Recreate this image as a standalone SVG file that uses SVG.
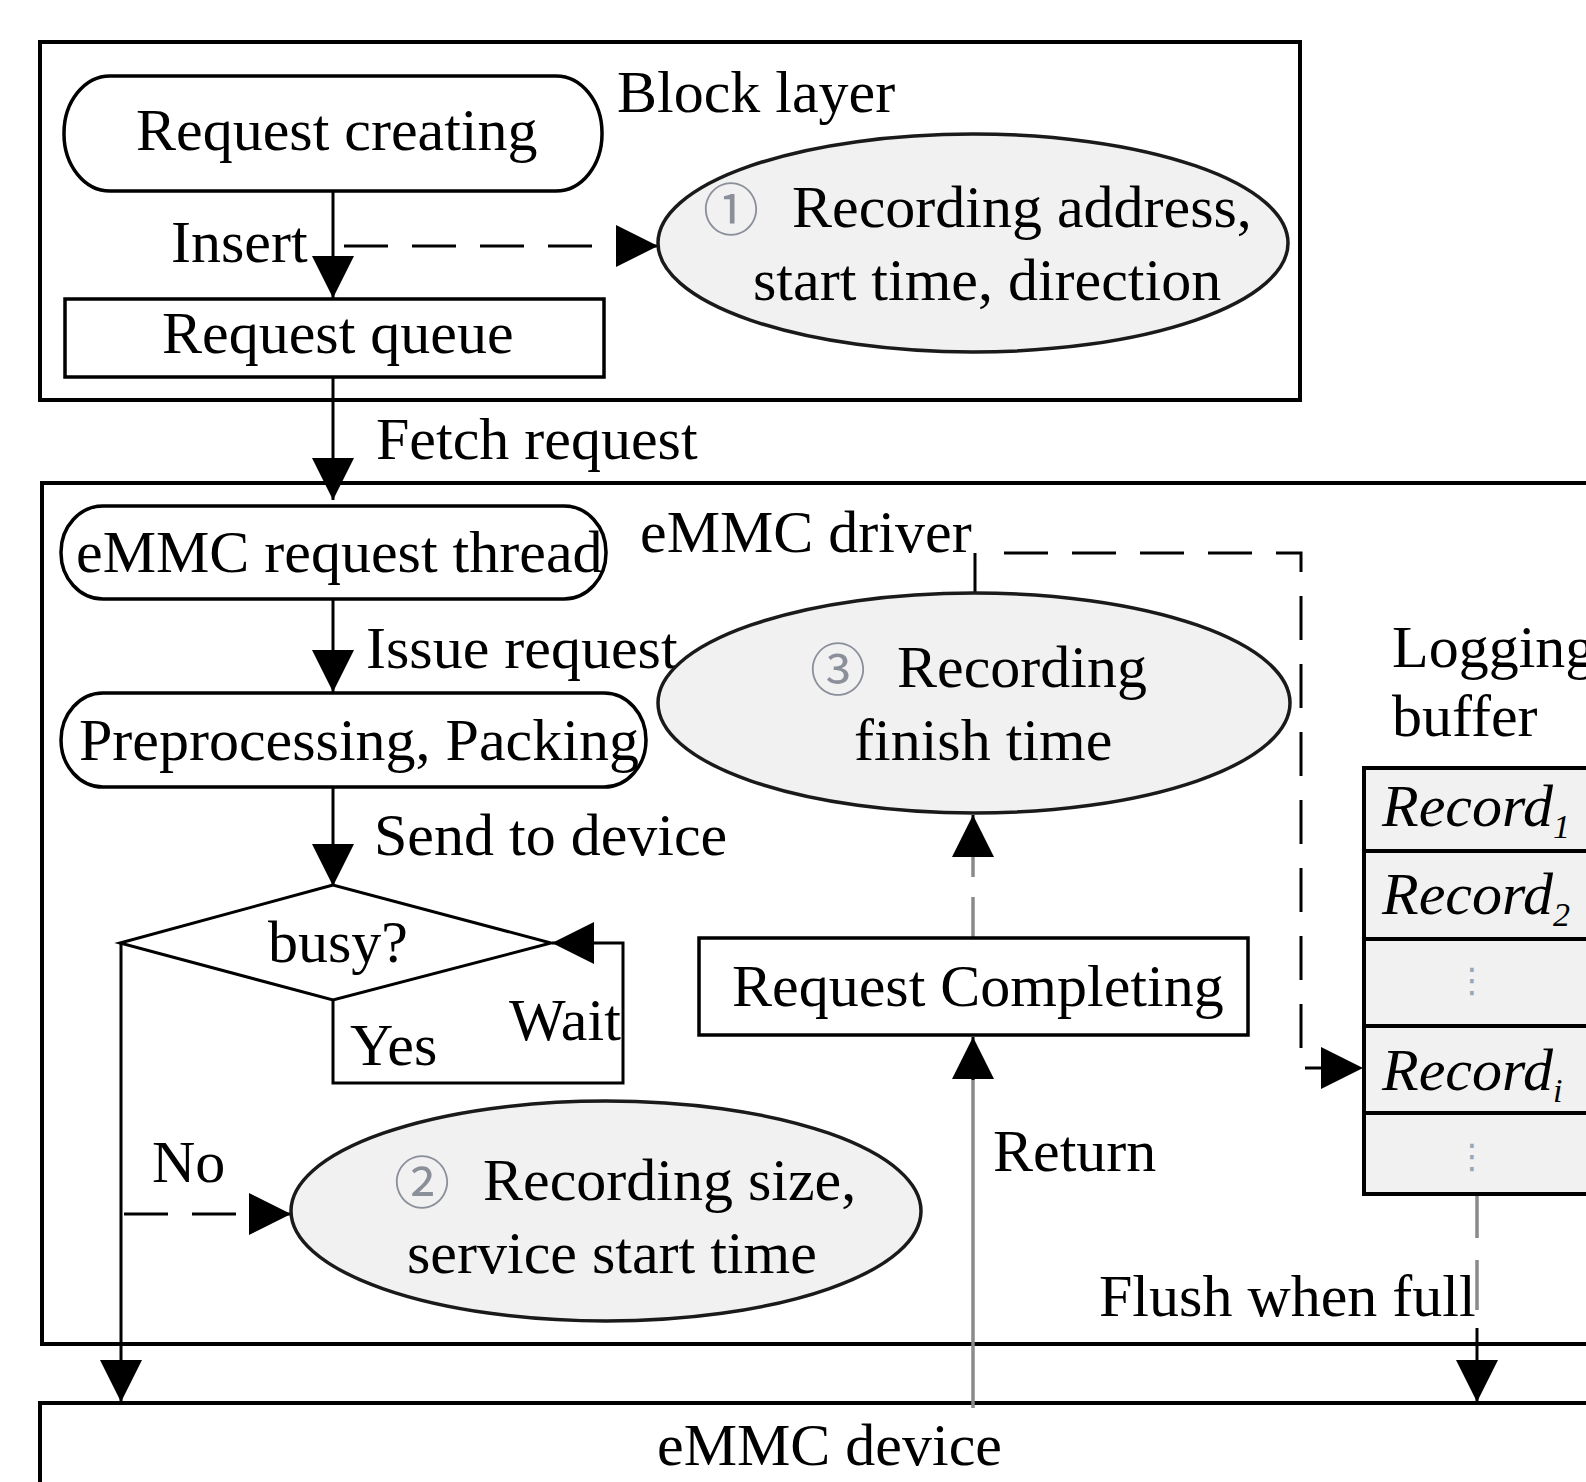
<svg xmlns="http://www.w3.org/2000/svg" width="1586" height="1482" viewBox="0 0 1586 1482">
<style>
.t{font-family:"Liberation Serif","Times New Roman","Noto Sans CJK SC",serif;font-size:60px;fill:#000}
.it{font-style:italic}
.cd{font-family:"Noto Sans CJK SC","DejaVu Sans",sans-serif;font-size:56px;fill:#8a8f9a}
.frame{fill:none;stroke:#000;stroke-width:4}
.node{fill:#fff;stroke:#000;stroke-width:3.5}
.ell{fill:#f1f1f1;stroke:#1a1a1a;stroke-width:3.5}
.rec{fill:#f1f1f1;stroke:#000;stroke-width:4}
.c{fill:none;stroke:#000;stroke-width:3}
.g{fill:none;stroke:#8a8a8a;stroke-width:3.5}
.d{fill:none;stroke:#000;stroke-width:3;stroke-dasharray:44 24}
.dots{font-family:"DejaVu Sans",sans-serif;font-size:34px;fill:#9aa6b8}
</style>
<defs>
<marker id="ah" markerUnits="userSpaceOnUse" markerWidth="42" markerHeight="42" viewBox="0 0 40 40" refX="40" refY="20" orient="auto">
<path d="M0,0 L40,20 L0,40 z" fill="#000"/>
</marker>
</defs>
<rect width="1586" height="1482" fill="#fff"/>

<g id="frames">
<rect class="frame" x="40" y="42" width="1260" height="358"/>
<rect class="frame" x="42" y="483" width="1600" height="861"/>
<rect class="frame" x="40" y="1403" width="1600" height="200"/>
<text class="t" x="617" y="112">Block layer</text>
<text class="t" x="640" y="552">eMMC driver</text>
<text class="t" x="657" y="1465">eMMC device</text>
</g>

<g id="connectors">
<line class="c" x1="333" y1="191" x2="333" y2="298" marker-end="url(#ah)"/>
<path class="d" d="M344,246 H658" marker-end="url(#ah)"/>
<line class="c" x1="333" y1="377" x2="333" y2="500" marker-end="url(#ah)"/>
<line class="c" x1="333" y1="599" x2="333" y2="692" marker-end="url(#ah)"/>
<line class="c" x1="333" y1="787" x2="333" y2="886" marker-end="url(#ah)"/>
<path class="c" d="M333,1000 V1083 H623 V943 H552" marker-end="url(#ah)"/>
<line class="c" x1="121" y1="943" x2="121" y2="1402" marker-end="url(#ah)"/>
<path class="d" d="M124,1214 H291" marker-end="url(#ah)"/>
<line class="c" x1="975" y1="553" x2="975" y2="593"/>
<path class="d" d="M1004,553 H1301 V1068 H1363" marker-end="url(#ah)"/>
<line class="g" x1="973" y1="945" x2="973" y2="897"/>
<line class="g" x1="973" y1="877" x2="973" y2="850"/>
<line class="c" x1="973" y1="855" x2="973" y2="815" marker-end="url(#ah)"/>
<line class="g" x1="973" y1="1408" x2="973" y2="1076"/>
<line class="c" x1="973" y1="1080" x2="973" y2="1037" marker-end="url(#ah)"/>
<line class="g" x1="1477" y1="1195" x2="1477" y2="1238"/>
<line class="g" x1="1477" y1="1260" x2="1477" y2="1310"/>
<line class="c" x1="1477" y1="1328" x2="1477" y2="1402" marker-end="url(#ah)"/>
<text class="t" x="171" y="262">Insert</text>
<text class="t" x="376" y="459">Fetch request</text>
<text class="t" x="366" y="668">Issue request</text>
<text class="t" x="374" y="855">Send to device</text>
<text class="t" x="509" y="1040">Wait</text>
<text class="t" x="350" y="1065">Yes</text>
<text class="t" x="152" y="1182">No</text>
<text class="t" x="993" y="1171">Return</text>
<text class="t" x="1099" y="1316">Flush when full</text>
</g>

<g id="request-creating">
<rect class="node" x="64" y="76" width="538" height="115" rx="46" ry="57"/>
<text class="t" x="136" y="150">Request creating</text>
</g>

<g id="request-queue">
<rect class="node" x="65" y="299" width="539" height="78"/>
<text class="t" x="162" y="353">Request queue</text>
</g>

<g id="record-1">
<ellipse class="ell" cx="973" cy="243" rx="315" ry="109"/>
<text class="cd" x="703" y="230">①</text>
<text class="t" x="792" y="227">Recording address,</text>
<text class="t" x="753" y="300">start time, direction</text>
</g>

<g id="emmc-request-thread">
<rect class="node" x="61" y="506" width="545" height="93" rx="42" ry="46"/>
<text class="t" x="76" y="572">eMMC request thread</text>
</g>

<g id="preprocessing">
<rect class="node" x="61" y="693" width="585" height="94" rx="42" ry="47"/>
<text class="t" x="79" y="760">Preprocessing, Packing</text>
</g>

<g id="record-3">
<ellipse class="ell" cx="974" cy="703" rx="316" ry="110"/>
<text class="cd" x="810" y="690">③</text>
<text class="t" x="897" y="687">Recording</text>
<text class="t" x="854" y="760">finish time</text>
</g>

<g id="busy">
<polygon class="node" points="333,885 120,943 333,1000 551,943" style="stroke-width:3"/>
<text class="t" x="268" y="962">busy?</text>
</g>

<g id="request-completing">
<rect class="node" x="699" y="938" width="549" height="97"/>
<text class="t" x="732" y="1006">Request Completing</text>
</g>

<g id="record-2">
<ellipse class="ell" cx="606" cy="1211" rx="315" ry="110"/>
<text class="cd" x="394" y="1203">②</text>
<text class="t" x="483" y="1200">Recording size,</text>
<text class="t" x="407" y="1273">service start time</text>
</g>

<g id="logging-buffer">
<text class="t" x="1392" y="667">Logging</text>
<text class="t" x="1392" y="736">buffer</text>
<rect class="rec" x="1364" y="768" width="300" height="83"/>
<rect class="rec" x="1364" y="851" width="300" height="88"/>
<rect class="rec" x="1364" y="939" width="300" height="87"/>
<rect class="rec" x="1364" y="1026" width="300" height="87"/>
<rect class="rec" x="1364" y="1113" width="300" height="81"/>
<text class="t it" x="1382" y="826">Record<tspan font-size="34" dy="12">1</tspan></text>
<text class="t it" x="1382" y="914">Record<tspan font-size="34" dy="12">2</tspan></text>
<text class="dots" x="1472" y="992" text-anchor="middle">⋮</text>
<text class="t it" x="1382" y="1090">Record<tspan font-size="34" dy="12">i</tspan></text>
<text class="dots" x="1472" y="1168" text-anchor="middle">⋮</text>
</g>
</svg>
